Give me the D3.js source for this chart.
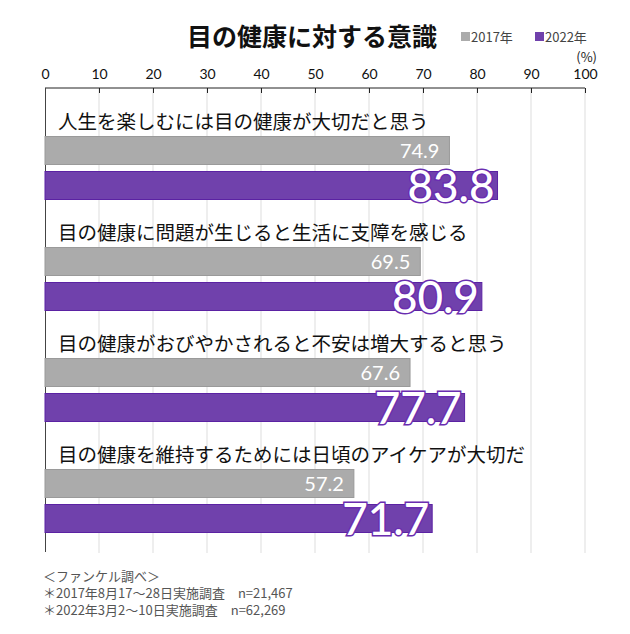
<!DOCTYPE html>
<html><head><meta charset="utf-8">
<script src="https://cdn.jsdelivr.net/npm/d3@7"></script>
<style>
html,body{margin:0;padding:0;background:#fff;}
svg{display:block;font-family:"Noto Sans CJK JP","Noto Sans",sans-serif;}
</style></head>
<body>
<svg id="c" width="630" height="634"></svg>
<script>
const title = "目の健康に対する意識";
const categories = [
  "人生を楽しむには目の健康が大切だと思う",
  "目の健康に問題が生じると生活に支障を感じる",
  "目の健康がおびやかされると不安は増大すると思う",
  "目の健康を維持するためには日頃のアイケアが大切だ"
];
const series = ["2017年", "2022年"];
const values2017 = [74.9, 69.5, 67.6, 57.2];
const values2022 = [83.8, 80.9, 77.7, 71.7];
const tickValues = [0,10,20,30,40,50,60,70,80,90,100];
const notes = [
  "＜ファンケル調べ＞",
  "＊2017年8月17～28日実施調査　n=21,467",
  "＊2022年3月2～10日実施調査　n=62,269"
];
const colors = {"2017年":"#ababab","2022年":"#7041ac"};
const borders = {"2017年":"#9a9a9a","2022年":"#5b22a3"};

const svg = d3.select("#c");
const x = d3.scaleLinear().domain([0,100]).range([45,585]);
const y = d3.scaleBand().domain(categories).range([105,549]);
const yi = d3.scaleBand().domain(series).range([31,95]).paddingInner(6/35);

// gridlines
svg.append("g").selectAll("line").data(tickValues.slice(1)).join("line")
  .attr("x1",d=>x(d)).attr("x2",d=>x(d)).attr("y1",88).attr("y2",553)
  .attr("stroke","#dddddd").attr("stroke-width",1);

// top axis
const axis = d3.axisTop(x).tickValues(tickValues).tickSize(-5).tickPadding(9).tickFormat(d3.format("d"));
const ga = svg.append("g").attr("transform","translate(0,88)").call(axis);
ga.select(".domain").attr("stroke","#222").attr("d","M45,0H585");
ga.selectAll(".tick line").attr("stroke","#222");
ga.selectAll(".tick text").attr("font-size",14).attr("fill","#111")
  .attr("font-family","Lato, 'Noto Sans', sans-serif").attr("dy","0");
// left axis line
svg.append("line").attr("x1",45.5).attr("x2",45.5).attr("y1",88).attr("y2",552)
  .attr("stroke","#444").attr("stroke-width",1);

// title
svg.append("text").attr("x",312).attr("y",46).attr("text-anchor","middle")
  .attr("font-size",25).attr("font-weight",700).attr("fill","#111").text(title);

// legend
const lg = svg.append("g");
const legX = [461, 535];
series.forEach((s,i)=>{
  lg.append("rect").attr("x",legX[i]).attr("y",32).attr("width",9).attr("height",9).attr("fill",colors[s]);
  lg.append("text").attr("x",legX[i]+10).attr("y",41.5).attr("font-size",13).attr("fill","#444").text(s);
});
svg.append("text").attr("x",597).attr("y",62).attr("text-anchor","end").attr("font-size",13).attr("fill","#222").text("(%)");

// groups
const rows = categories.map((c,i)=>({c, v:{"2017年":values2017[i],"2022年":values2022[i]}}));
const g = svg.append("g").selectAll("g").data(rows).join("g")
  .attr("transform",d=>`translate(0,${y(d.c)})`);
g.append("text").attr("x",58).attr("y",24).attr("font-size",19.5).attr("fill","#111").text(d=>d.c);
series.forEach(s=>{
  g.append("rect").attr("x",x(0)).attr("y",yi(s)+0.5)
    .attr("width",d=>x(d.v[s])-x(0)).attr("height",yi.bandwidth()-1)
    .attr("fill",colors[s]).attr("stroke",borders[s]).attr("stroke-width",1);
});
// 2017 labels
g.append("text").attr("x",d=>x(d.v["2017年"])-10).attr("y",yi("2017年")+22)
  .attr("text-anchor","end").attr("font-size",20).attr("fill","#fff")
  .attr("font-family","Lato, 'Noto Sans', sans-serif")
  .text(d=>d.v["2017年"].toFixed(1));
// 2022 labels
g.append("text").attr("x",d=>x(d.v["2022年"])-3).attr("y",yi("2022年")+31)
  .attr("text-anchor","end").attr("font-size",44).attr("font-weight",500).attr("fill","#fff")
  .attr("stroke","#6a2db0").attr("stroke-width",3).attr("paint-order","stroke")
  .attr("font-family","Lato, 'Noto Sans', sans-serif")
  .text(d=>d.v["2022年"].toFixed(1));

// notes
svg.append("g").selectAll("text").data(notes).join("text")
  .attr("x",43).attr("y",(d,i)=>581+i*17).attr("font-size",13).attr("fill","#555").text(d=>d);
</script>
</body></html>
